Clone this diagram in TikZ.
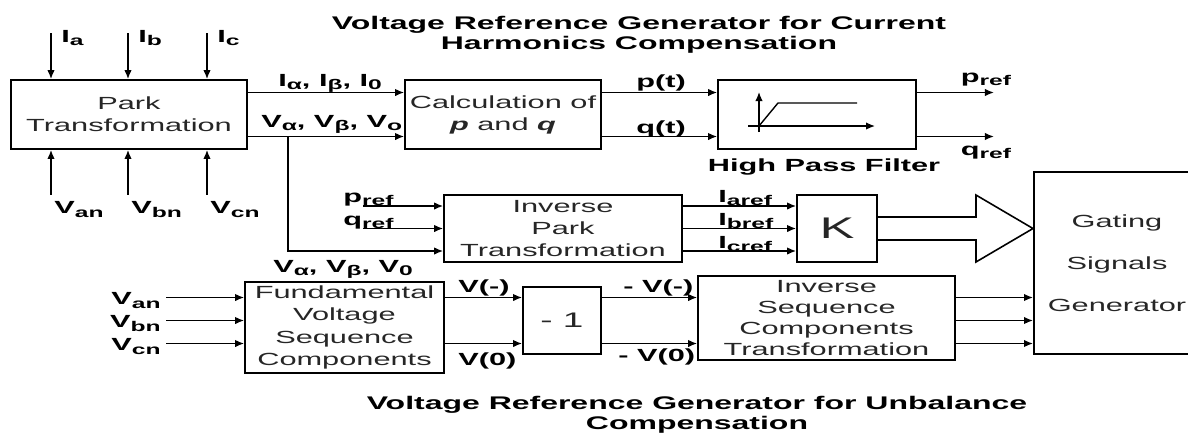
\documentclass[tikz,border=0pt]{standalone}
\usepackage{fontspec}
\setmainfont{Liberation Sans}[FakeStretch=1.75]
\usetikzlibrary{calc,arrows.meta,positioning}
\newcommand{\lsub}[1]{\raisebox{-2pt}{\footnotesize #1}}
\tikzset{
  blk/.style   ={rectangle, draw=black, line width=1.1pt, inner sep=0pt,
                 align=center, text=black!85, font=\fontsize{10}{12.5}\selectfont},
  sline/.style ={line width=0.8pt, black},
  sdir/.style  ={sline, -{Latex[length=1.8mm,width=1.5mm]}},
  slabel/.style={inner sep=0pt, font=\bfseries},
  stitle/.style={inner sep=0pt, align=center, font=\bfseries\fontsize{10.4}{11.4}\selectfont},
}
\begin{document}
\begin{tikzpicture}[x=0.02cm,y=-0.02cm]
  \useasboundingbox (0,0) rectangle (1188,434);
  \clip (0,0) rectangle (1188,434);
  % titles
  \node[stitle] (ttop) at (639,35)  {Voltage Reference Generator for Current\\Harmonics Compensation};
  \node[stitle] (tbot) at (697,415) {Voltage Reference Generator for Unbalance\\Compensation};
  % blocks
  \node[blk, minimum width=4.72cm, minimum height=1.38cm] (park)  at (129,114.5) {Park\\Transformation};
  \node[blk, minimum width=3.92cm, minimum height=1.38cm] (calc)  at (503,114.5) {Calculation of\\\textbf{\textit{p}} and \textbf{\textit{q}}};
  \node[blk, minimum width=3.96cm, minimum height=1.38cm] (hpf)   at (817,114.5) {};
  \node[blk, minimum width=4.76cm, minimum height=1.34cm] (ipark) at (563,228.5) {Inverse\\Park\\Transformation};
  \node[blk, minimum width=1.6cm,  minimum height=1.34cm, font=\fontsize{17}{17}\selectfont] (kbox) at (837,228.5) {K};
  \node[blk, minimum width=4cm, minimum height=3.64cm, anchor=west] (gate) at (1033,263) {};
  \node[blk, draw=none, minimum width=3.36cm] (gatetxt) at (1117,263) {Gating\\[4mm]Signals\\[4mm]Generator};
  \node[blk, minimum width=3.98cm, minimum height=1.82cm, font=\fontsize{10}{12.7}\selectfont] (fund) at (344.5,327.5) {Fundamental\\Voltage\\Sequence\\Components};
  \node[blk, minimum width=1.56cm, minimum height=1.34cm, font=\fontsize{12}{12}\selectfont] (neg) at (562,320.5) {- 1};
  \node[blk, minimum width=5.14cm, minimum height=1.68cm, font=\fontsize{10}{12.1}\selectfont] (iseq) at (826.5,318) {Inverse\\Sequence\\Components\\Transformation};

  % park inputs
  \foreach \dx/\ph in {-78/a,-1/b,78/c} {
    \coordinate (i\ph) at ($(park.north)+(\dx,-46)$);
    \draw[sdir] (i\ph) -- (i\ph |- park.north);
    \node[slabel, anchor=base west] (li\ph) at ($(i\ph)+(10,9)$) {I\lsub{\ph}};
    \coordinate (v\ph) at ($(park.south)+(\dx,45)$);
    \draw[sdir] (v\ph) -- (v\ph |- park.south);
    \node[slabel, anchor=base west] (lv\ph) at ($(v\ph)+(3,19)$) {V\lsub{\ph n}};
  }

  % park -> calc -> hpf
  \coordinate (ir) at ($(park.east)+(0,-22)$);
  \coordinate (vr) at ($(park.east)+(0,22)$);
  \draw[sdir] (ir) -- (calc.west |- ir);
  \draw[sdir] (vr) -- (calc.west |- vr);
  \node[slabel, anchor=base west] (liab) at ($(ir)+(30,-6.5)$) {I\lsub{α}, I\lsub{β}, I\lsub{0}};
  \node[slabel, anchor=base west] (lvab) at ($(vr)+(13,-9.5)$) {V\lsub{α}, V\lsub{β}, V\lsub{o}};
  \draw[sdir] (calc.east |- ir) -- (hpf.west |- ir);
  \draw[sdir] (calc.east |- vr) -- (hpf.west |- vr);
  \node[slabel, anchor=base] (lpt) at (661,87)  {p(t)};
  \node[slabel, anchor=base] (lqt) at (661,133) {q(t)};
  \coordinate (po) at ($(hpf.east |- ir)+(77,0)$);
  \coordinate (qo) at ($(hpf.east |- vr)+(77,0)$);
  \draw[sdir] (hpf.east |- ir) -- (po);
  \draw[sdir] (hpf.east |- vr) -- (qo);
  \node[slabel, anchor=base] (lpo) at (986,82)  {p\lsub{ref}};
  \node[slabel, anchor=base] (lqo) at (986,155) {q\lsub{ref}};
  \node[slabel, anchor=base] (lhpf) at (824,171) {High Pass Filter};

  % filter sketch
  \begin{scope}[shift={(hpf.center)}]
    \draw[sdir] (-58,17.5) -- (-58,-22.5);
    \draw[sdir] (-69,11.5) -- (58,11.5);
    \draw[sline] (-58,11.5) -- (-39,-11.5) -- (40,-11.5);
  \end{scope}

  % inverse park
  \coordinate (br) at ($(vr)+(40,0)$);
  \coordinate (ka) at ($(ipark.west)+(0,-22.5)$);
  \coordinate (kb) at (ipark.west);
  \coordinate (kc) at ($(ipark.west)+(0,22.5)$);
  \coordinate (pin) at ($(ka)+(-80,0)$);
  \coordinate (qin) at ($(kb)+(-80,0)$);
  \draw[sdir] (br) |- (kc);
  \draw[sdir] (pin) -- (ka);
  \draw[sdir] (qin) -- (kb);
  \node[slabel, anchor=base west] (lpin) at (343,202) {p\lsub{ref}};
  \node[slabel, anchor=base west] (lqin) at (343,225) {q\lsub{ref}};
  \node[slabel, anchor=base west] (lvlo) at (273,272) {V\lsub{α}, V\lsub{β}, V\lsub{0}};
  \foreach \ph/\yb in {a/202,b/225,c/248} {
    \draw[sdir] (ipark.east |- k\ph) -- (kbox.west |- k\ph);
    \node[slabel, anchor=base west] (l\ph ref) at (718,\yb) {I\lsub{\ph ref}};
  }

  % hollow arrow K -> gating
  \draw[line width=0.9pt] ($(kbox.east)+(0,-11.5)$) -- ++(98,0) -- ++(0,-22)
    -- (gate.west |- kbox.east) -- ($(kbox.east)+(98,33.5)$) -- ++(0,-22)
    -- ($(kbox.east)+(0,11.5)$);

  % unbalance path
  \coordinate (vm) at ($(neg.west)+(0,-23)$);
  \coordinate (vz) at ($(neg.west)+(0,23)$);
  \foreach \ph/\y in {a/vm,b/neg.west,c/vz} {
    \coordinate (f\ph) at ($(fund.west |- \y)+(-78,0)$);
    \draw[sdir] (f\ph) -- (fund.west |- \y);
    \node[slabel, anchor=base east] (lf\ph) at ($(f\ph)+(-5,7)$) {V\lsub{\ph n}};
    \draw[sdir] (iseq.east |- \y) -- (gate.west |- \y);
  }
  \draw[sdir] (fund.east |- vm) -- (vm);
  \draw[sdir] (fund.east |- vz) -- (vz);
  \draw[sdir] (neg.east |- vm) -- (iseq.west |- vm);
  \draw[sdir] (neg.east |- vz) -- (iseq.west |- vz);
  \node[slabel, anchor=base west] (lvm)  at (458,292) {V(-)};
  \node[slabel, anchor=base west] (lvz)  at (458,365) {V(0)};
  \node[slabel, anchor=base west] (lnvm) at (623,292) {- V(-)};
  \node[slabel, anchor=base west] (lnvz) at (618,361) {- V(0)};
\end{tikzpicture}
\end{document}
